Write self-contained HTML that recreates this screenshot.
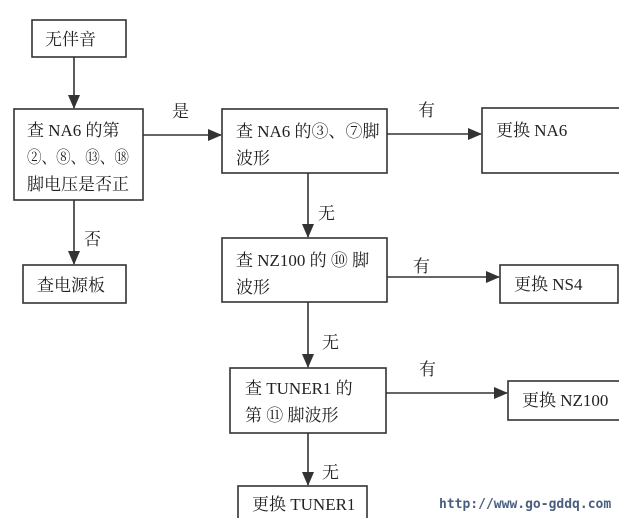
<!DOCTYPE html>
<html><head><meta charset="utf-8"><style>
html,body{margin:0;padding:0;background:#fff;}
svg{display:block;}
text{font-family:"Liberation Serif","Noto Serif CJK SC","Noto Sans CJK SC",serif;font-size:17px;fill:#222;}
</style></head><body>
<svg width="619" height="518" viewBox="0 0 619 518" xmlns="http://www.w3.org/2000/svg">
<defs><marker id="a" markerWidth="14" markerHeight="12" refX="13" refY="6" orient="auto" markerUnits="userSpaceOnUse"><path d="M0,0 L14,6 L0,12 Z" fill="#333"/></marker></defs>
<g fill="none" stroke="#333" stroke-width="1.6">
<rect x="32" y="20" width="94" height="37"/>
<rect x="14" y="109" width="129" height="91"/>
<rect x="23" y="265" width="103" height="38"/>
<rect x="222" y="109" width="165" height="64"/>
<rect x="482" y="108" width="140" height="65"/>
<rect x="222" y="238" width="165" height="64"/>
<rect x="500" y="265" width="118" height="38"/>
<rect x="230" y="368" width="156" height="65"/>
<rect x="508" y="381" width="115" height="39"/>
<rect x="238" y="486" width="129" height="40"/>
<line x1="74" y1="57" x2="74" y2="108" marker-end="url(#a)"/>
<line x1="74" y1="200" x2="74" y2="264" marker-end="url(#a)"/>
<line x1="143" y1="135" x2="221" y2="135" marker-end="url(#a)"/>
<line x1="387" y1="134" x2="481" y2="134" marker-end="url(#a)"/>
<line x1="308" y1="173" x2="308" y2="237" marker-end="url(#a)"/>
<line x1="387" y1="277" x2="499" y2="277" marker-end="url(#a)"/>
<line x1="308" y1="302" x2="308" y2="367" marker-end="url(#a)"/>
<line x1="386" y1="393" x2="507" y2="393" marker-end="url(#a)"/>
<line x1="308" y1="433" x2="308" y2="485" marker-end="url(#a)"/>
</g>
<text x="45" y="45">无伴音</text>
<text x="27" y="136">查 NA6 的第</text>
<text x="27" y="163" textLength="102" lengthAdjust="spacingAndGlyphs">②、⑧、⑬、⑱</text>
<text x="27" y="190">脚电压是否正</text>
<text x="37" y="291">查电源板</text>
<text x="236" y="137">查 NA6 的③、⑦脚</text>
<text x="236" y="164">波形</text>
<text x="496" y="136">更换 NA6</text>
<text x="236" y="266">查 NZ100 的 ⑩ 脚</text>
<text x="236" y="293">波形</text>
<text x="514" y="290">更换 NS4</text>
<text x="245" y="394">查  TUNER1  的</text>
<text x="245" y="421">第 ⑪ 脚波形</text>
<text x="522" y="406">更换 NZ100</text>
<text x="252" y="510">更换 TUNER1</text>
<text x="172" y="117">是</text>
<text x="84" y="245">否</text>
<text x="418" y="116">有</text>
<text x="318" y="219">无</text>
<text x="413" y="272">有</text>
<text x="322" y="348">无</text>
<text x="419" y="375">有</text>
<text x="322" y="478">无</text>
<text x="439" y="508" style="font-family:'DejaVu Sans Mono','Liberation Mono',monospace;font-size:13px;font-weight:bold;fill:#4a5f80;">http://www.go-gddq.com</text>
</svg>
</body></html>
